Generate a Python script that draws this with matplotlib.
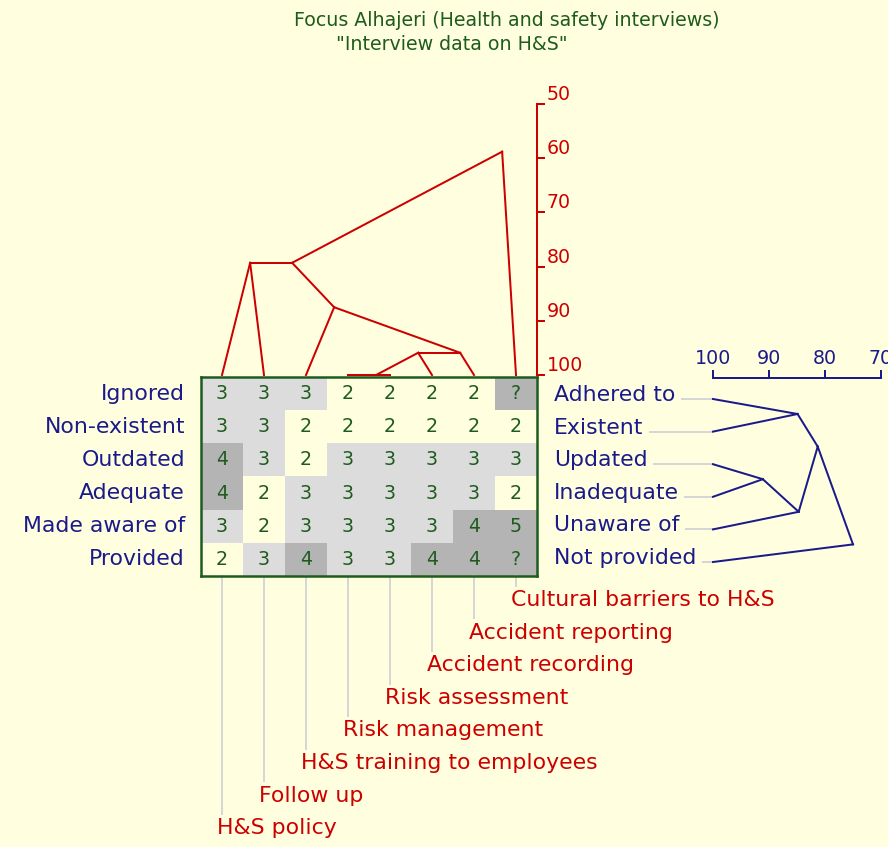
import matplotlib
matplotlib.use("Agg")
import matplotlib.pyplot as plt
import numpy as np
from matplotlib.colors import to_rgb

# Grid data (elements = columns, constructs = rows)
elements = ["H&S policy", "Follow up", "H&S training to employees", "Risk management",
            "Risk assessment", "Accident recording", "Accident reporting",
            "Cultural barriers to H&S"]
left_poles = ["Ignored", "Non-existent", "Outdated", "Adequate", "Made aware of", "Provided"]
right_poles = ["Adhered to", "Existent", "Updated", "Inadequate", "Unaware of", "Not provided"]
ratings = [
    ["3", "3", "3", "2", "2", "2", "2", "?"],
    ["3", "3", "2", "2", "2", "2", "2", "2"],
    ["4", "3", "2", "3", "3", "3", "3", "3"],
    ["4", "2", "3", "3", "3", "3", "3", "2"],
    ["3", "2", "3", "3", "3", "3", "4", "5"],
    ["2", "3", "4", "3", "3", "4", "4", "?"],
]

# Cluster merges: (left child, right child, similarity %); new nodes numbered after the leaves
element_merges = [(3, 4, 100.0), (8, 5, 95.9), (9, 6, 95.9), (2, 10, 87.5),
                  (0, 1, 79.3), (12, 11, 79.3), (13, 7, 58.8)]
construct_merges = [(0, 1, 84.9), (2, 3, 91.1), (7, 4, 84.7), (6, 8, 81.3), (9, 5, 75.0)]

element_ticks = [50, 60, 70, 80, 90, 100]
construct_ticks = [100, 90, 80, 70]

# Colours
bg = "#FFFFE0"
green = "#1E5C1E"
red = "#CC0000"
navy = "#1A1A8A"
leader = "#D6D6D6"
shade = {"1": bg, "2": bg, "3": "#DCDCDC", "4": "#B4B4B4", "5": "#B4B4B4", "?": "#B4B4B4"}

W, H = 888, 847
fs = 19      # numbers, ticks, title
fs_lab = 22  # pole and element labels


def box(left, top, right, bottom):
    return [left / W, 1 - bottom / H, (right - left) / W, (bottom - top) / H]


def tree_segments(n_leaves, merges, offset):
    pos = {i: (i, 100.0) for i in range(n_leaves)}
    first = {i: i for i in range(n_leaves)}
    segs = []
    for k, (a, b, level) in enumerate(merges):
        node = n_leaves + k
        pos[node] = (first[b] - offset, level)
        first[node] = min(first[a], first[b])
        segs.append((pos[a], pos[node]))
        segs.append((pos[b], pos[node]))
    return segs


fig = plt.figure(figsize=(W / 72, H / 72), dpi=72, facecolor=bg)
plt.rcParams["font.family"] = "DejaVu Sans"

# Title
fig.text(507 / W, 1 - 20 / H, "Focus Alhajeri (Health and safety interviews)",
         ha="center", va="center", color=green, fontsize=fs)
fig.text(452 / W, 1 - 45 / H, '"Interview data on H&S"',
         ha="center", va="center", color=green, fontsize=fs)

# Rating grid
n_rows, n_cols = len(ratings), len(elements)
gl, gt, gr, gb = 201, 377, 537, 576
row_px = (gb - gt) / n_rows
ax = fig.add_axes(box(gl, gt, gr, gb))
rgb = np.array([[to_rgb(shade[v]) for v in row] for row in ratings])
ax.imshow(rgb, aspect="auto", interpolation="nearest")
ax.set_xlim(-0.5, n_cols - 0.5)
ax.set_ylim(n_rows - 0.5, -0.5)
ax.set_xticks([])
ax.set_yticks([])
for s in ax.spines.values():
    s.set_color(green)
    s.set_linewidth(2.5)
for i, row in enumerate(ratings):
    for j, v in enumerate(row):
        ax.text(j, i, v, ha="center", va="center", color=green, fontsize=fs)
    ax.annotate(left_poles[i], (-0.5, i), xytext=(-16, 0), textcoords="offset points",
                ha="right", va="center", color=navy, fontsize=fs_lab)

# Element labels with leader lines below the grid
for j, name in enumerate(elements):
    drop = 24 + 32.6 * (n_cols - 1 - j)
    ax.plot([j, j], [n_rows - 0.5, n_rows - 0.5 + drop / row_px], color=leader,
            lw=2, clip_on=False, zorder=1)
    ax.annotate(name, (j, n_rows - 0.5), xytext=(-5, -drop), textcoords="offset points",
                ha="left", va="center", color=red, fontsize=fs_lab, zorder=3,
                bbox=dict(boxstyle="square,pad=0.15", fc=bg, ec="none"))

# Element dendrogram (top)
axr = fig.add_axes(box(gl, 104, gr, 375))
axr.set_facecolor("none")
for (x0, y0), (x1, y1) in tree_segments(n_cols, element_merges, 0.33):
    axr.plot([x0, x1], [y0, y1], color=red, lw=2, clip_on=False)
axr.set_xlim(-0.5, n_cols - 0.5)
axr.set_ylim(100, 50)
axr.set_xticks([])
axr.set_yticks(element_ticks)
axr.yaxis.tick_right()
axr.tick_params(axis="y", direction="out", length=8, width=2, color=red,
                labelcolor=red, labelsize=fs, pad=2)
for t in axr.get_yticklabels():
    t.set_verticalalignment("bottom")
for k in ["left", "top", "bottom"]:
    axr.spines[k].set_visible(False)
axr.spines["right"].set_color(red)
axr.spines["right"].set_linewidth(2)

# Construct dendrogram (right)
px_unit = (881 - 713) / 30
axb = fig.add_axes(box(713, 399 - 16.3, 881, 399 - 16.3 + 6 * 32.6))
axb.set_facecolor("none")
for (y0, x0), (y1, x1) in tree_segments(n_rows, construct_merges, 0.54):
    axb.plot([x0, x1], [y0, y1], color=navy, lw=2, clip_on=False)
for i, name in enumerate(right_poles):
    axb.plot([100, 100 + 150 / px_unit], [i, i], color=leader, lw=2, clip_on=False, zorder=1)
    axb.annotate(name, (100, i), xytext=(-159, 4), textcoords="offset points",
                 ha="left", va="center", color=navy, fontsize=fs_lab, zorder=3,
                 bbox=dict(boxstyle="square,pad=0.25", fc=bg, ec="none"))
axb.set_xlim(100, 70)
axb.set_ylim(n_rows - 0.5, -0.5)
axb.set_yticks([])
axb.set_xticks(construct_ticks)
axb.xaxis.tick_top()
axb.tick_params(axis="x", direction="out", length=8, width=2, color=navy,
                labelcolor=navy, labelsize=fs, pad=2)
for k in ["left", "right", "bottom"]:
    axb.spines[k].set_visible(False)
axb.spines["top"].set_color(navy)
axb.spines["top"].set_linewidth(2)
axb.spines["top"].set_position(("outward", 5))

fig.savefig("out.png", dpi=72, facecolor=bg)
